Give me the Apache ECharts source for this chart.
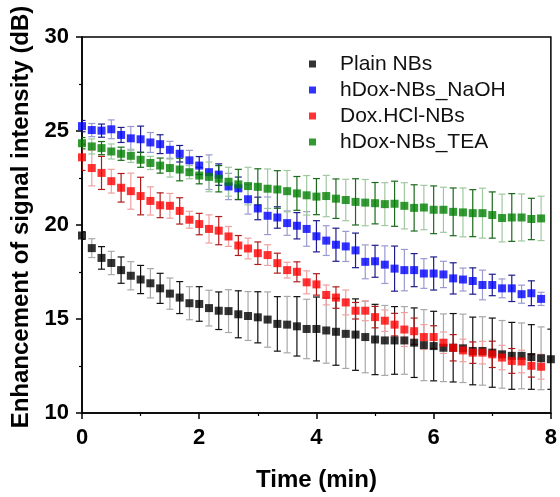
<!DOCTYPE html>
<html>
<head>
<meta charset="utf-8">
<script src="https://cdn.jsdelivr.net/npm/echarts@6/dist/echarts.min.js"></script>
<style>html,body{margin:0;padding:0;background:#fff;}#c{width:560px;height:497px;}</style>
</head>
<body>
<div id="c"></div>
<script>
var seriesNames = ['Plain NBs', 'hDox-NBs_NaOH', 'Dox.HCl-NBs', 'hDox-NBs_TEA'];
var xTicks = [0, 2, 4, 6, 8];
var yTicks = [10, 15, 20, 25, 30];

var time = [0,0.167,0.333,0.5,0.667,0.833,1,1.167,1.333,1.5,1.667,1.833,2,2.167,2.333,2.5,2.667,2.833,3,3.167,3.333,3.5,3.667,3.833,4,4.167,4.333,4.5,4.667,4.833,5,5.167,5.333,5.5,5.667,5.833,6,6.167,6.333,6.5,6.667,6.833,7,7.167,7.333,7.5,7.667,7.833,8];

var plainVal = [19.44,18.77,18.25,17.98,17.6,17.3,17.1,16.9,16.63,16.35,16.14,15.84,15.8,15.58,15.44,15.42,15.25,15.16,15.09,14.97,14.74,14.7,14.61,14.47,14.47,14.39,14.32,14.21,14.17,14.04,13.91,13.86,13.86,13.86,13.74,13.61,13.56,13.47,13.47,13.44,13.3,13.3,13.21,13.12,13.04,13.04,12.98,12.91,12.86];
var plainErr = [0.2,0.5,0.6,0.62,0.7,0.75,0.75,0.78,0.8,0.83,0.85,0.88,0.92,0.95,1.0,1.14,1.25,1.3,1.36,1.47,1.45,1.5,1.58,1.58,1.7,1.74,1.78,1.84,1.9,1.9,1.87,1.86,1.8,1.8,1.85,1.89,1.85,1.8,1.82,1.82,1.8,1.82,1.84,1.8,1.78,1.75,1.72,1.67,1.6];

var naohVal = [25.26,25.05,25.02,25.09,24.79,24.61,24.56,24.39,24.3,24.0,23.79,23.44,23.16,22.81,22.68,22.05,21.95,21.37,20.88,20.49,20.4,20.1,19.96,19.79,19.4,19.17,18.95,18.86,18.65,18.04,18.07,17.89,17.68,17.6,17.6,17.42,17.42,17.37,17.16,17.1,17.02,16.81,16.81,16.63,16.63,16.32,16.37,16.07];
var naohErr = [0.3,0.35,0.35,0.5,0.4,0.63,0.7,0.53,0.5,0.45,0.44,0.53,0.48,0.92,0.57,0.7,0.6,0.79,0.6,1.0,0.57,0.65,0.7,0.92,0.83,0.79,0.88,0.8,0.92,0.9,0.85,1.0,1.2,1.1,0.88,0.79,0.88,0.7,0.83,0.61,0.7,0.79,0.57,0.5,0.7,0.48,0.66,0.35];

var hclVal = [23.6,23.03,22.77,22.33,21.98,21.8,21.54,21.28,21.05,21.02,20.75,20.28,20.05,19.79,19.7,19.39,18.91,18.75,18.5,18.4,17.97,17.6,17.51,16.95,16.84,16.28,16.14,15.88,15.44,15.44,15.1,14.91,14.7,14.44,14.35,14.04,14.04,13.74,13.47,13.33,13.21,13.21,13.12,12.95,12.77,12.74,12.51,12.46];
var hclErr = [0.7,0.95,0.88,0.63,0.76,0.96,1.0,0.75,0.66,0.66,0.7,0.45,0.57,0.75,0.75,0.53,0.53,0.55,0.6,0.55,0.53,0.42,0.53,0.61,0.57,0.53,0.57,0.66,0.44,0.53,0.57,0.57,0.6,0.9,0.7,0.66,0.6,0.57,0.7,0.6,0.57,0.6,0.7,0.65,0.66,0.6,0.6,0.66];

var teaVal = [24.35,24.18,24.09,23.91,23.79,23.68,23.47,23.3,23.16,23.03,22.95,22.81,22.63,22.56,22.46,22.3,22.16,22.07,22.03,21.93,21.89,21.8,21.68,21.58,21.51,21.54,21.4,21.33,21.23,21.19,21.16,21.11,21.13,21.02,20.91,20.93,20.81,20.81,20.7,20.67,20.63,20.63,20.53,20.37,20.4,20.4,20.32,20.35];
var teaErr = [0.3,0.4,0.35,0.4,0.35,0.35,0.4,0.35,0.4,0.48,0.6,0.35,0.44,0.79,0.7,0.77,0.8,1.0,0.96,1.05,1.0,1.1,0.9,1.05,0.96,1.1,1.05,1.1,1.23,1.23,1.1,1.14,1.2,1.23,1.23,1.18,1.27,1.2,1.27,1.3,1.25,1.33,1.23,1.27,1.27,1.25,1.1,1.18];

var markerColors = ['#000000', '#0000ff', '#ff0000', '#008000'];
var barDark = ['#111111', '#1c1c8c', '#b01c1c', '#1a6a1a'];
var barLight = ['#a8a8a8', '#9a9ad0', '#f0a0a0', '#a0c8a0'];

var allVals = [plainVal, naohVal, hclVal, teaVal];
var allErrs = [plainErr, naohErr, hclErr, teaErr];

var FONT = 'Liberation Sans, Arial, sans-serif';
var series = [];
allVals.forEach(function (vals, k) {
  var bars = [];
  for (var i = 0; i < vals.length; i++) {
    bars.push([time[i], vals[i] - allErrs[k][i], vals[i] + allErrs[k][i], i]);
  }
  series.push({
    name: 'err_' + k,
    type: 'custom',
    z: 1,
    clip: true,
    data: bars,
    encode: {x: 0, y: [1, 2]},
    renderItem: function (params, api) {
      var x = api.value(0);
      var lo = api.coord([x, api.value(1)]);
      var hi = api.coord([x, api.value(2)]);
      var col = (api.value(3) % 2 === 0) ? barDark[k] : barLight[k];
      var hw = 3.5;
      var st = {stroke: col, lineWidth: 1.2};
      return {
        type: 'group',
        children: [
          {type: 'line', shape: {x1: hi[0], y1: hi[1], x2: lo[0], y2: lo[1]}, style: st},
          {type: 'line', shape: {x1: hi[0] - hw, y1: hi[1], x2: hi[0] + hw, y2: hi[1]}, style: st},
          {type: 'line', shape: {x1: lo[0] - hw, y1: lo[1], x2: lo[0] + hw, y2: lo[1]}, style: st}
        ]
      };
    }
  });
});
allVals.forEach(function (vals, k) {
  var pts = [];
  for (var i = 0; i < vals.length; i++) pts.push([time[i], vals[i]]);
  series.push({
    name: seriesNames[k],
    type: 'scatter',
    symbol: 'rect',
    symbolSize: 8,
    z: 2 + k,
    itemStyle: {color: markerColors[k]},
    data: pts
  });
});

var chart = echarts.init(document.getElementById('c'), null, {renderer: 'canvas'});
chart.setOption({
  animation: false,
  backgroundColor: '#ffffff',
  grid: {left: 82, right: 7, top: 37, bottom: 81, show: true, borderColor: '#000', borderWidth: 1.5, backgroundColor: 'transparent'},
  legend: {
    data: seriesNames,
    orient: 'vertical',
    left: 304,
    top: 48,
    itemWidth: 7,
    itemHeight: 7,
    itemGap: 4,
    icon: 'rect',
    textStyle: {fontFamily: FONT, fontSize: 21, color: '#111', padding: [0, 0, 0, 19], lineHeight: 22}
  },
  xAxis: {
    type: 'value',
    min: 0, max: 8, interval: 2,
    name: 'Time (min)',
    nameLocation: 'middle',
    nameGap: 55,
    nameTextStyle: {fontFamily: FONT, fontSize: 24, fontWeight: 'bold', color: '#000'},
    axisLine: {show: true, onZero: false, lineStyle: {color: '#000', width: 1.5}},
    axisTick: {show: true, inside: false, length: 6, lineStyle: {color: '#000', width: 1.5}},
    minorTick: {show: true, splitNumber: 2, length: 3, lineStyle: {color: '#000', width: 1.2}},
    axisLabel: {fontFamily: FONT, fontSize: 22, fontWeight: 'bold', color: '#000', margin: 14,
      formatter: function (v) { return xTicks.indexOf(v) >= 0 ? String(v) : ''; }},
    splitLine: {show: false}
  },
  yAxis: {
    type: 'value',
    min: 10, max: 30, interval: 5,
    name: 'Enhancement of signal intensity (dB)',
    nameLocation: 'middle',
    nameGap: 36,
    nameTextStyle: {fontFamily: FONT, fontSize: 24, fontWeight: 'bold', color: '#000', padding: [0, 0, 0, 16]},
    axisLine: {show: true, onZero: false, lineStyle: {color: '#000', width: 1.5}},
    axisTick: {show: true, inside: false, length: 6, lineStyle: {color: '#000', width: 1.5}},
    minorTick: {show: true, splitNumber: 2, length: 3, lineStyle: {color: '#000', width: 1.2}},
    axisLabel: {fontFamily: FONT, fontSize: 22, fontWeight: 'bold', color: '#000', margin: 13,
      formatter: function (v) { return yTicks.indexOf(v) >= 0 ? String(v) : ''; }},
    splitLine: {show: false}
  },
  series: series
});
</script>
</body>
</html>
